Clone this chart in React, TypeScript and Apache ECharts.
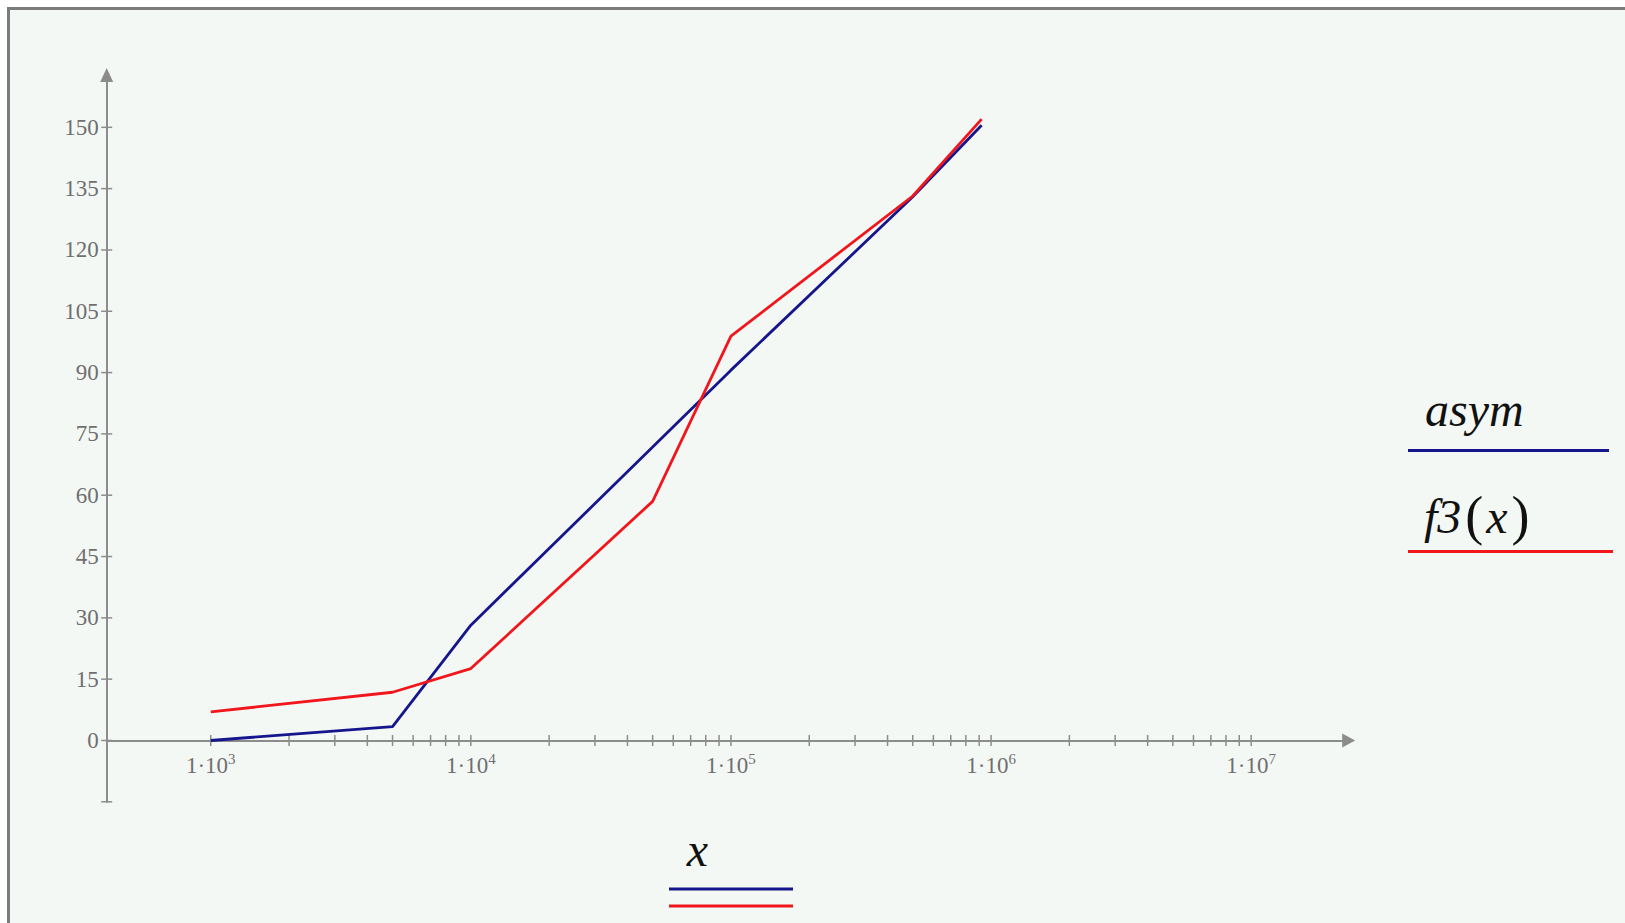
import React, { useEffect, useRef } from "react";
import * as echarts from "echarts";

// ---- data ----
const xValues = [1000, 5000, 10000, 50000, 100000, 500000, 920000];
const asymValues = [0, 3.4, 28.2, 71.8, 90.6, 133.0, 150.5];
const f3Values = [7.0, 11.8, 17.6, 58.5, 98.9, 133.2, 152.0];

const xLabelValues = [1e3, 1e4, 1e5, 1e6, 1e7];
const xTickValues = [
  1000, 2000, 3000, 4000, 5000, 6000, 7000, 8000, 9000,
  10000, 20000, 30000, 40000, 50000, 60000, 70000, 80000, 90000,
  100000, 200000, 300000, 400000, 500000, 600000, 700000, 800000, 900000,
  1000000, 2000000, 3000000, 4000000, 5000000, 6000000, 7000000, 8000000, 9000000,
  10000000,
];
const yLabelValues = [0, 15, 30, 45, 60, 75, 90, 105, 120, 135, 150];
const yTickValues = [-15, 0, 15, 30, 45, 60, 75, 90, 105, 120, 135, 150];

const X_MIN = Math.pow(10, 2.6);
const X_MAX = Math.pow(10, 7.375);
const Y_MIN = -15;
const Y_MAX = 162.8;

const GRID_TOP = 75;
const GRID_HEIGHT = 726.8;
// distance from grid bottom (Y_MIN) up to the zero line
const ZERO_OFFSET = (GRID_HEIGHT * (0 - Y_MIN)) / (Y_MAX - Y_MIN);

const AXIS_COLOR = "#8c8c8c";
const LABEL_COLOR = "#6f6f6f";
const BLUE = "#16168c";
const RED = "#f0161c";
const SERIF = "'Liberation Serif', 'DejaVu Serif', serif";

export default function App() {
  const ref = useRef<HTMLDivElement>(null);

  useEffect(() => {
    if (!ref.current) return;
    const chart = echarts.init(ref.current, undefined, { renderer: "svg" });

    const option: any = {
      animation: false,
      backgroundColor: "transparent",
      grid: {
        left: 106.7,
        top: GRID_TOP,
        width: 1242,
        height: GRID_HEIGHT,
        outerBoundsMode: "none",
      },
      xAxis: {
        type: "log",
        logBase: 10,
        min: X_MIN,
        max: X_MAX,
        offset: -ZERO_OFFSET,
        axisLine: {
          onZero: false,
          symbol: ["none", "triangle"],
          symbolSize: [14, 13],
          lineStyle: { color: AXIS_COLOR, width: 2 },
        },
        axisTick: { show: false },
        splitLine: { show: false },
        minorTick: { show: false },
        axisLabel: {
          customValues: xLabelValues,
          margin: 11,
          formatter: (v: number) => {
            const l = Math.log10(v);
            const e = Math.round(l);
            if (Math.abs(l - e) > 1e-6) return "";
            return `{b|1·10}{s|${e}}`;
          },
          rich: {
            b: {
              fontFamily: SERIF,
              fontSize: 23,
              color: LABEL_COLOR,
              lineHeight: 26,
              verticalAlign: "bottom",
            },
            s: {
              fontFamily: SERIF,
              fontSize: 15,
              color: LABEL_COLOR,
              lineHeight: 15,
              verticalAlign: "top",
            },
          },
        },
      },
      yAxis: {
        type: "value",
        min: Y_MIN,
        max: Y_MAX,
        interval: 15,
        axisLine: {
          show: true,
          onZero: false,
          symbol: ["none", "triangle"],
          symbolSize: [13, 14],
          lineStyle: { color: AXIS_COLOR, width: 2 },
        },
        axisTick: { show: false },
        splitLine: { show: false },
        axisLabel: {
          customValues: yLabelValues,
          margin: 8,
          fontFamily: SERIF,
          fontSize: 23,
          color: LABEL_COLOR,
          formatter: (v: number) => String(v),
        },
      },
      graphic: [
        {
          type: "text",
          x: 1425,
          y: 409.5,
          style: {
            text: "asym",
            font: `italic 48px ${SERIF}`,
            fill: "#111",
            align: "left",
            verticalAlign: "middle",
          },
        },
        {
          type: "line",
          shape: { x1: 1408, y1: 450.5, x2: 1609, y2: 450.5 },
          style: { stroke: BLUE, lineWidth: 3 },
        },
        {
          type: "text",
          x: 1424,
          y: 516,
          style: {
            text: "{a|f3}{p|(}{a|x}{p|)}",
            fill: "#111",
            align: "left",
            verticalAlign: "middle",
            rich: {
              a: { font: `italic 48px ${SERIF}`, fill: "#111", padding: [0, 1, 0, 0] },
              p: { font: `54px ${SERIF}`, fill: "#111", padding: [0, 3, 0, 3] },
            },
          },
        },
        {
          type: "line",
          shape: { x1: 1408, y1: 551.5, x2: 1613, y2: 551.5 },
          style: { stroke: RED, lineWidth: 3 },
        },
        {
          type: "text",
          x: 697.5,
          y: 849.5,
          style: {
            text: "x",
            font: `italic 48px ${SERIF}`,
            fill: "#111",
            align: "center",
            verticalAlign: "middle",
          },
        },
        {
          type: "line",
          shape: { x1: 669, y1: 889, x2: 793, y2: 889 },
          style: { stroke: BLUE, lineWidth: 3 },
        },
        {
          type: "line",
          shape: { x1: 669, y1: 906, x2: 793, y2: 906 },
          style: { stroke: RED, lineWidth: 3 },
        },
      ],
      series: [
        {
          name: "xticks",
          type: "custom",
          coordinateSystem: "cartesian2d",
          silent: true,
          z: 1,
          data: xTickValues.map((v) => [v, 0]),
          renderItem: (_p: any, api: any) => {
            const p = api.coord([api.value(0), api.value(1)]);
            return {
              type: "line",
              shape: { x1: p[0], y1: p[1] - 5.5, x2: p[0], y2: p[1] + 5.5 },
              style: { stroke: AXIS_COLOR, lineWidth: 1.5 },
            };
          },
        },
        {
          name: "yticks",
          type: "custom",
          coordinateSystem: "cartesian2d",
          silent: true,
          z: 1,
          data: yTickValues.map((v) => [X_MIN, v]),
          renderItem: (_p: any, api: any) => {
            const p = api.coord([api.value(0), api.value(1)]);
            return {
              type: "line",
              shape: { x1: p[0] - 5.5, y1: p[1], x2: p[0] + 5.5, y2: p[1] },
              style: { stroke: AXIS_COLOR, lineWidth: 1.5 },
            };
          },
        },
        {
          name: "asym",
          type: "line",
          data: xValues.map((x, i) => [x, asymValues[i]]),
          showSymbol: false,
          symbol: "none",
          lineStyle: { color: BLUE, width: 2.8 },
          itemStyle: { color: BLUE },
          z: 3,
        },
        {
          name: "f3(x)",
          type: "line",
          data: xValues.map((x, i) => [x, f3Values[i]]),
          showSymbol: false,
          symbol: "none",
          lineStyle: { color: RED, width: 2.8 },
          itemStyle: { color: RED },
          z: 4,
        },
      ],
    };

    chart.setOption(option);
    return () => chart.dispose();
  }, []);

  return (
    <div
      style={{
        position: "absolute",
        left: 0,
        top: 0,
        width: 1625,
        height: 923,
        overflow: "hidden",
        background: "#ffffff",
      }}
    >
      <div
        style={{
          position: "absolute",
          left: 7,
          top: 7,
          width: 1700,
          height: 1000,
          background: "#f4f8f5",
          border: "3px solid #7b7b7b",
        }}
      />
      <div
        ref={ref}
        style={{ position: "absolute", left: 0, top: 0, width: 1625, height: 923 }}
      />
    </div>
  );
}
